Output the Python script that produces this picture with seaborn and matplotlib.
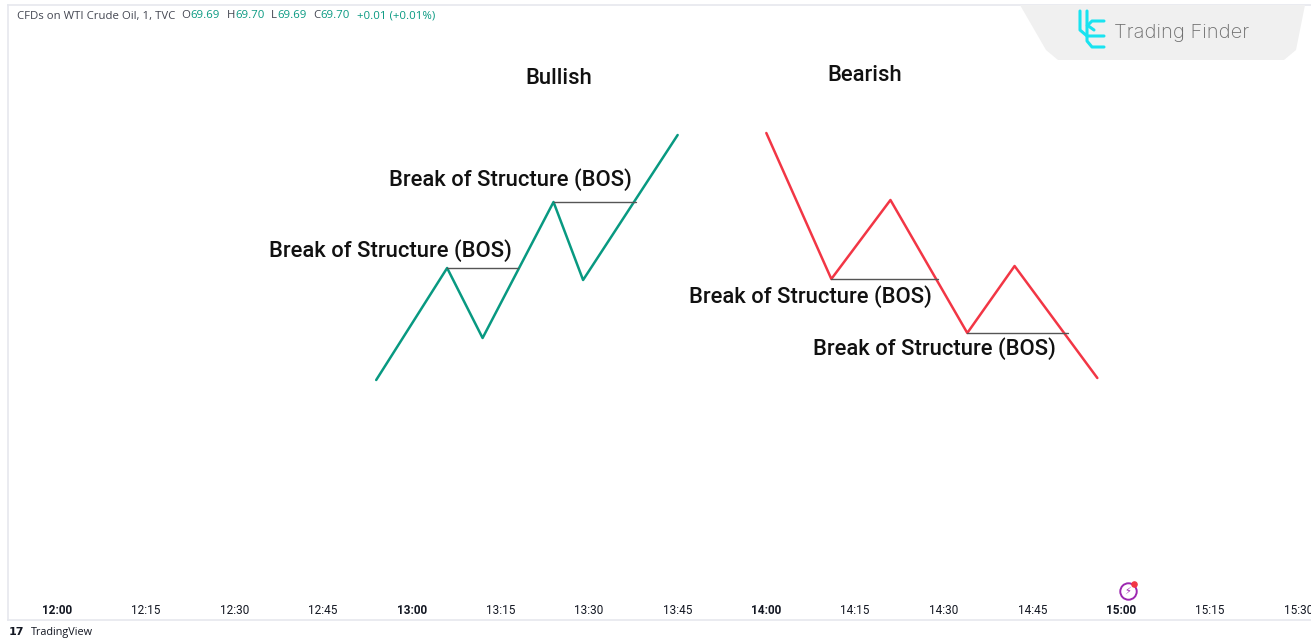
import pandas as pd
import matplotlib.pyplot as plt
import matplotlib.patches as mpatches
import seaborn as sns

# minutes after 12:00 and price level (arbitrary units) for each swing point
bull_t = [54, 66, 72, 84, 89, 105]
bull_p = [24.0, 35.2, 28.2, 41.8, 34.0, 48.5]
bear_t = [120, 131, 141, 154, 162, 176]
bear_p = [48.7, 34.1, 42.0, 28.7, 35.4, 24.2]

# break of structure levels: (start, end, level)
bos_bull = [(66, 78, 35.2), (84, 98, 41.8)]
bos_bear = [(131, 149, 34.1), (154, 171, 28.7)]
bos_text = [(56.4, 36.9), (76.7, 44.0), (127.5, 32.3), (148.5, 27.1)]

tick_min = [0, 15, 30, 45, 60, 75, 90, 105, 120, 135, 150, 165, 180, 195, 210]
tick_lbl = ["12:00", "12:15", "12:30", "12:45", "13:00", "13:15", "13:30", "13:45",
            "14:00", "14:15", "14:30", "14:45", "15:00", "15:15", "15:30"]

ohlc = [("O", "69.69"), ("H", "69.70"), ("L", "69.69"), ("C", "69.70")]
change = "+0.01 (+0.01%)"

green = "#089981"
red = "#F23645"
dark = "#131722"

sns.set_theme(style="white")
plt.rcParams["font.family"] = ["Roboto", "DejaVu Sans"]

W, H = 1311, 638
fig = plt.figure(figsize=(W / 100, H / 100), dpi=100)
ax = fig.add_axes([8 / W, 18 / H, (W - 8) / W, 615 / H])

bull = pd.DataFrame({"t": bull_t, "p": bull_p})
bear = pd.DataFrame({"t": bear_t, "p": bear_p})
sns.lineplot(data=bull, x="t", y="p", ax=ax, color=green, lw=1.8, estimator=None, sort=False)
sns.lineplot(data=bear, x="t", y="p", ax=ax, color=red, lw=1.8, estimator=None, sort=False)

for x0, x1, lv in bos_bull + bos_bear:
    ax.plot([x0, x1], [lv, lv], color="#555555", lw=1.0)

for x, y in bos_text:
    ax.text(x, y, "Break of Structure (BOS)", ha="center", va="center",
            fontsize=15.8, fontweight="medium", color="#111111")

ax.text(84.8, 54.1, "Bullish", ha="center", va="center", fontsize=15.8,
        fontweight="medium", color="#111111")
ax.text(136.6, 54.4, "Bearish", ha="center", va="center", fontsize=15.8,
        fontweight="medium", color="#111111")

px = 5.911  # pixels per minute
ax.set_xlim((8 - 57) / px, (W - 57) / px)
ax.set_ylim(0, 61.5)
ax.set_xticks(tick_min)
ax.set_xticklabels(tick_lbl)
ax.tick_params(axis="x", length=0, pad=-11.5, labelsize=8.5, colors=dark)
for lab in ax.get_xticklabels():
    if lab.get_text().endswith(":00"):
        lab.set_fontweight("bold")
ax.set_yticks([])
ax.set_xlabel("")
ax.set_ylabel("")
for s in ["left", "top", "bottom"]:
    ax.spines[s].set_color("#e6e8ee")
    ax.spines[s].set_linewidth(1.2)
ax.spines["right"].set_visible(False)

# lightning icon above 15:00
ax.scatter([181.2], [2.9], s=140, facecolor="white", edgecolor="#9c27b0", lw=1.4, zorder=5)
ax.text(181.2, 2.9, "⚡", ha="center", va="center", fontsize=7, color="#9c27b0",
        family="DejaVu Sans", zorder=6)
ax.scatter([182.2], [3.6], s=14, color="#f23645", zorder=7)

# header legend
anchor = fig.text(17 / W, 1 - 16 / H, "CFDs on WTI Crude Oil, 1, TVC", fontsize=8.2,
                  color="#434651", va="center", family=["Open Sans", "DejaVu Sans"])
pieces = []
for k, v in ohlc:
    pieces.append((k, "#434651", 4.5))
    pieces.append((v, green, 0.3))
pieces.append((change, green, 5))
for txt, col, gap in pieces:
    anchor = ax.annotate(txt, xy=(1, 0), xycoords=anchor, xytext=(gap, 0),
                         textcoords="offset points", va="bottom", ha="left",
                         fontsize=8.2, color=col, family=["Open Sans", "DejaVu Sans"],
                         annotation_clip=False)

# Trading Finder badge
badge = mpatches.Polygon([[1020 / W, 1 - 5 / H], [1305 / W, 1 - 5 / H], [1296 / W, 1 - 50 / H],
                          [1284 / W, 1 - 60 / H], [1058 / W, 1 - 60 / H], [1046 / W, 1 - 50 / H]],
                         closed=True, transform=fig.transFigure, facecolor="#f0f0f0",
                         edgecolor="none", zorder=0)
fig.patches.append(badge)
cyan = "#19e3f0"
for xs, ys in [([1080, 1080, 1087, 1104], [11, 30, 36, 36]),
               ([1087, 1087, 1094], [11, 25, 30]),
               ([1104, 1092, 1087, 1087, 1092, 1104], [21, 21, 26, 41, 47, 47])]:
    fig.add_artist(plt.Line2D([x / W for x in xs], [1 - y / H for y in ys],
                              color=cyan, lw=2.2, transform=fig.transFigure))
fig.text(1114 / W, 1 - 33 / H, "Trading Finder", fontsize=14.5, color="#6f6f6f",
         va="center", ha="left", family=["Inter", "DejaVu Sans"], fontweight="light")

# TradingView footer
fig.text(9 / W, 1 - 632 / H, "17", fontsize=8, fontweight="heavy", color=dark,
         va="center", family=["DejaVu Sans"])
fig.text(31 / W, 1 - 632 / H, "TradingView", fontsize=7.8, color=dark, va="center",
         family=["Open Sans", "DejaVu Sans"])

fig.savefig("out.png", dpi=100)
